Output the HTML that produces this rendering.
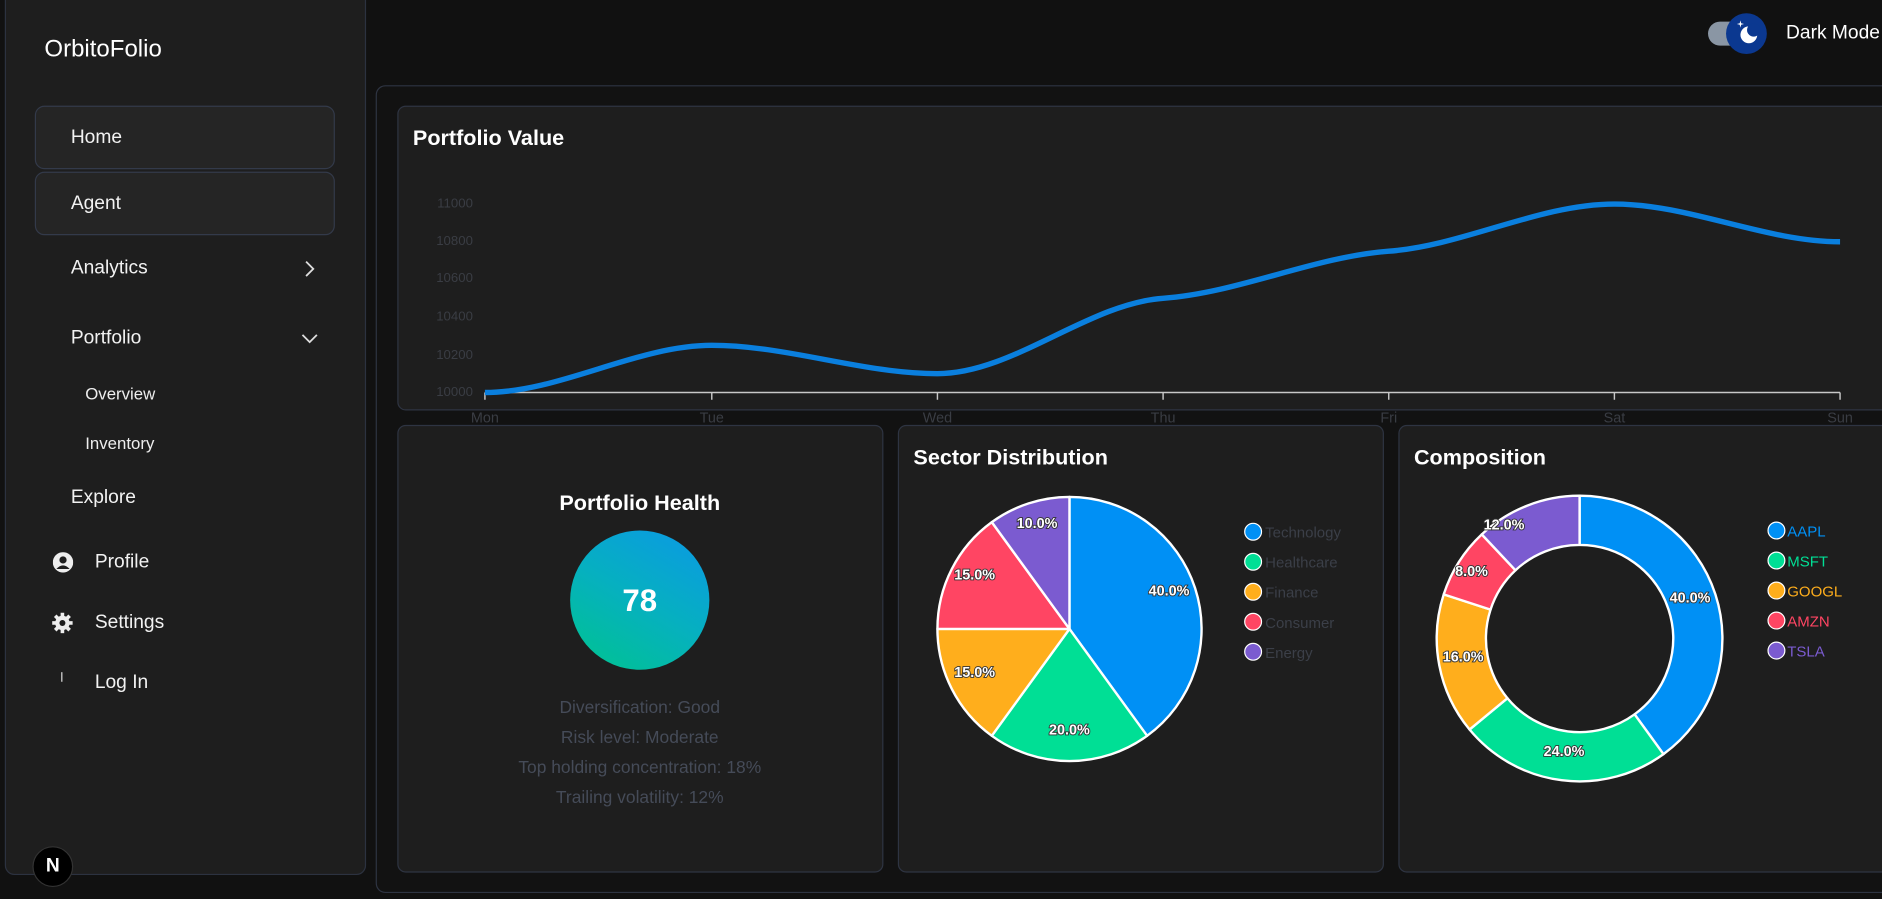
<!DOCTYPE html>
<html><head><meta charset="utf-8"><style>
html,body{margin:0;padding:0;background:#111111;overflow:hidden;width:1882px;height:899px}
#w{position:absolute;left:0;top:0;width:1568px;height:749px;transform:scale(1.2003);transform-origin:0 0;font-family:"Liberation Sans",sans-serif;color:#fff;background:#111111}
.a{position:absolute}
.side{left:4px;top:-10px;width:299px;height:737px;background:#1e1e1e;border:1px solid #2c3240;border-radius:8px}
.btn{left:29px;width:248px;height:51px;background:#252525;border:1px solid #333a4a;border-radius:8px}
.nav{font-size:16px;color:#f2f2f2}
.card{background:#1e1e1e;border:1px solid #2e3442;border-radius:7px}
.h{font-weight:bold;font-size:18px}
.yl{font-size:11px;color:#3a3d44;width:60px;text-align:right}
.xl{font-size:12px;color:#3a3d44;width:60px;text-align:center}
.ht{font-size:14.5px;color:#454b58;width:404px;text-align:center;left:331px}
</style></head><body><div id="w">
<div class="a side"></div>
<div class="a" style="left:37px;top:30px;font-size:20px">OrbitoFolio</div>
<div class="a btn" style="top:88px"></div>
<div class="a btn" style="top:143px"></div>
<div class="a nav" style="left:59px;top:106px">Home</div>
<div class="a nav" style="left:59px;top:161px">Agent</div>
<div class="a nav" style="left:59px;top:215px">Analytics</div>
<svg class="a" style="left:252px;top:217px" width="12" height="14"><path d="M3 1 L9 7 L3 13" stroke="#ddd" stroke-width="1.5" fill="none"/></svg>
<div class="a nav" style="left:59px;top:273px">Portfolio</div>
<svg class="a" style="left:251px;top:277px" width="14" height="10"><path d="M1 2 L7 8 L13 2" stroke="#ddd" stroke-width="1.5" fill="none"/></svg>
<div class="a" style="left:71px;top:320px;font-size:14px;color:#eee">Overview</div>
<div class="a" style="left:71px;top:361px;font-size:14px;color:#eee">Inventory</div>
<div class="a nav" style="left:59px;top:406px">Explore</div>
<svg class="a" style="left:44px;top:460px" width="17" height="17"><circle cx="8.5" cy="8.5" r="8.5" fill="#eee"/><circle cx="8.5" cy="6.5" r="3" fill="#1e1e1e"/><path d="M3 14 Q8.5 8 14 14" fill="#1e1e1e"/></svg>
<div class="a nav" style="left:79px;top:460px">Profile</div>
<svg class="a" style="left:43px;top:510px" width="18" height="18" viewBox="0 0 18 18"><g fill="#eee"><circle cx="9" cy="9" r="6"/><rect x="7.5" y="0.5" width="3" height="17"/><rect x="0.5" y="7.5" width="17" height="3"/><rect x="7.5" y="0.5" width="3" height="17" transform="rotate(45 9 9)"/><rect x="7.5" y="0.5" width="3" height="17" transform="rotate(-45 9 9)"/></g><circle cx="9" cy="9" r="2.5" fill="#1e1e1e"/></svg>
<div class="a nav" style="left:79px;top:510px">Settings</div>
<div class="a" style="left:51px;top:560px;width:1px;height:8px;background:#ddd"></div>
<div class="a nav" style="left:79px;top:560px">Log In</div>
<div class="a" style="left:27px;top:705px;width:32px;height:32px;border-radius:50%;background:#000;border:1px solid #333;color:#fff;font-weight:bold;font-size:16px;text-align:center;line-height:32px">N</div>
<div class="a" style="left:1423px;top:18px;width:34px;height:20px;border-radius:10px;background:#8a96a4"></div>
<div class="a" style="left:1438px;top:11px;width:34px;height:34px;border-radius:50%;background:#0b3890"></div>
<svg class="a" style="left:1438px;top:11px" width="34" height="34"><circle cx="19" cy="18" r="7" fill="#fff"/><circle cx="23" cy="14" r="5.5" fill="#0b3890"/><path d="M12 6 L12.6 8.4 L15 9 L12.6 9.6 L12 12 L11.4 9.6 L9 9 L11.4 8.4Z" fill="#fff"/></svg>
<div class="a" style="left:1488px;top:19px;font-size:16px">Dark Mode</div>
<div class="a" style="left:313px;top:71px;width:1300px;height:671px;border:1px solid #2e3442;border-radius:8px;background:#121212"></div>
<div class="a card" style="left:331px;top:88px;width:1280px;height:252px"></div>
<div class="a h" style="left:344px;top:105px">Portfolio Value</div>
<div class="a yl" style="left:334px;top:164px">11000</div>
<div class="a yl" style="left:334px;top:195px">10800</div>
<div class="a yl" style="left:334px;top:226px">10600</div>
<div class="a yl" style="left:334px;top:258px">10400</div>
<div class="a yl" style="left:334px;top:290px">10200</div>
<div class="a yl" style="left:334px;top:321px">10000</div>
<svg class="a" style="left:0;top:0" width="1568" height="360">
<path d="M404 327H1533" stroke="#c8c8c8" stroke-width="1.2"/>
<g stroke="#c8c8c8" stroke-width="1.2"><path d="M404 327v6M593 327v6M781 327v6M969 327v6M1157 327v6M1345 327v6M1533 327v6"/></g>
<path d="M404 327 C466.7 327 530.3 287.7 593 287.7 C655.7 287.7 718.3 311.3 781 311.3 C843.7 311.3 906.3 253 969 248.5 C1031.7 244 1094.3 214 1157 209.3 C1219.7 204.6 1282.3 170 1345 170 C1407.7 170 1470.3 201.4 1533 201.4" stroke="#0a7fde" stroke-width="4.5" fill="none"/>
</svg>
<div class="a xl" style="left:374px;top:341px">Mon</div>
<div class="a xl" style="left:563px;top:341px">Tue</div>
<div class="a xl" style="left:751px;top:341px">Wed</div>
<div class="a xl" style="left:939px;top:341px">Thu</div>
<div class="a xl" style="left:1127px;top:341px">Fri</div>
<div class="a xl" style="left:1315px;top:341px">Sat</div>
<div class="a xl" style="left:1503px;top:341px">Sun</div>
<div class="a card" style="left:331px;top:354px;width:403px;height:371px"></div>
<div class="a card" style="left:748px;top:354px;width:403px;height:371px"></div>
<div class="a card" style="left:1165px;top:354px;width:420px;height:371px"></div>
<div class="a h" style="left:331px;top:409px;width:404px;text-align:center">Portfolio Health</div>
<div class="a" style="left:475px;top:442px;width:116px;height:116px;border-radius:50%;background:linear-gradient(30deg,#00c48e 0%,#06b0c0 50%,#0b98e6 100%);font-weight:bold;font-size:26px;text-align:center;line-height:116px">78</div>
<div class="a ht" style="top:582px">Diversification: Good</div>
<div class="a ht" style="top:607px">Risk level: Moderate</div>
<div class="a ht" style="top:632px">Top holding concentration: 18%</div>
<div class="a ht" style="top:657px">Trailing volatility: 12%</div>
<div class="a h" style="left:761px;top:371px">Sector Distribution</div>
<div class="a h" style="left:1178px;top:371px">Composition</div>
<svg class="a" style="left:0;top:0" width="1568" height="749" font-family="Liberation Sans, sans-serif">
<g stroke="#fff" stroke-width="2" stroke-linejoin="round">
<path d="M891 524 L891 414 A110 110 0 0 1 955.7 613Z" fill="#0090f5"/>
<path d="M891 524 L955.7 613 A110 110 0 0 1 826.3 613Z" fill="#00df95"/>
<path d="M891 524 L826.3 613 A110 110 0 0 1 781 524Z" fill="#ffae1c"/>
<path d="M891 524 L781 524 A110 110 0 0 1 826.3 435Z" fill="#ff4563"/>
<path d="M891 524 L826.3 435 A110 110 0 0 1 891 414Z" fill="#7b5bd0"/>
<path d="M1316 413 A119 119 0 0 1 1385.9 628.3 L1361.8 595.1 A78 78 0 0 0 1316 454Z" fill="#0090f5"/>
<path d="M1385.9 628.3 A119 119 0 0 1 1224.3 607.8 L1255.9 581.7 A78 78 0 0 0 1361.8 595.1Z" fill="#00df95"/>
<path d="M1224.3 607.8 A119 119 0 0 1 1202.8 495.2 L1241.8 507.9 A78 78 0 0 0 1255.9 581.7Z" fill="#ffae1c"/>
<path d="M1202.8 495.2 A119 119 0 0 1 1234.5 445.2 L1262.6 475.1 A78 78 0 0 0 1241.8 507.9Z" fill="#ff4563"/>
<path d="M1234.5 445.2 A119 119 0 0 1 1316 413 L1316 454 A78 78 0 0 0 1262.6 475.1Z" fill="#7b5bd0"/>
</g>
<g font-size="12" font-weight="bold" fill="#fff" text-anchor="middle" style="paint-order:stroke" stroke="#333" stroke-width="1.5">
<text x="974" y="496">40.0%</text><text x="891" y="612">20.0%</text><text x="812" y="564">15.0%</text><text x="812" y="483">15.0%</text><text x="864" y="440">10.0%</text>
<text x="1408" y="502">40.0%</text><text x="1303" y="630">24.0%</text><text x="1219" y="551">16.0%</text><text x="1226" y="480">8.0%</text><text x="1253" y="441">12.0%</text>
</g>
<g stroke="#fff" stroke-width="1">
<circle cx="1044" cy="443" r="7" fill="#0090f5"/><circle cx="1044" cy="468" r="7" fill="#00df95"/><circle cx="1044" cy="493" r="7" fill="#ffae1c"/><circle cx="1044" cy="518" r="7" fill="#ff4563"/><circle cx="1044" cy="543" r="7" fill="#7b5bd0"/>
<circle cx="1480" cy="442" r="7" fill="#0090f5"/><circle cx="1480" cy="467" r="7" fill="#00df95"/><circle cx="1480" cy="492" r="7" fill="#ffae1c"/><circle cx="1480" cy="517" r="7" fill="#ff4563"/><circle cx="1480" cy="542" r="7" fill="#7b5bd0"/>
</g>
<g font-size="12.5" fill="#3b3f48">
<text x="1054" y="448">Technology</text><text x="1054" y="473">Healthcare</text><text x="1054" y="498">Finance</text><text x="1054" y="523">Consumer</text><text x="1054" y="548">Energy</text>
</g>
<g font-size="12.5">
<text x="1489" y="447" fill="#0090f5">AAPL</text><text x="1489" y="472" fill="#00df95">MSFT</text><text x="1489" y="497" fill="#ffae1c">GOOGL</text><text x="1489" y="522" fill="#ff4563">AMZN</text><text x="1489" y="547" fill="#7b5bd0">TSLA</text>
</g>
</svg>
</div></body></html>
